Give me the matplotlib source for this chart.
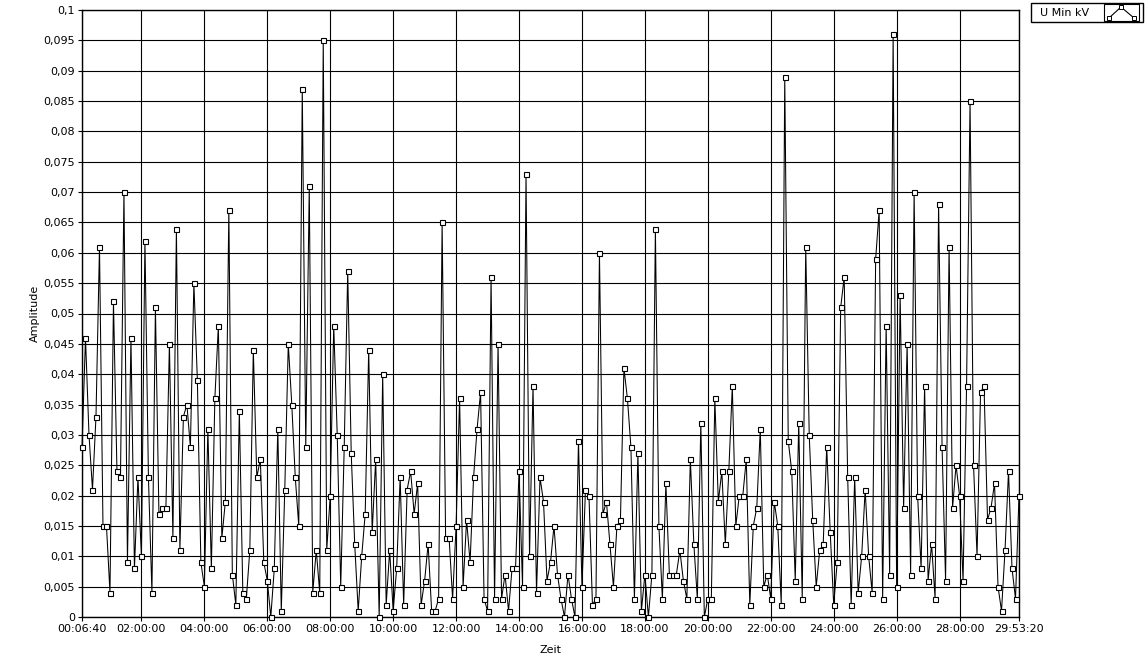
import matplotlib
matplotlib.use("Agg")
import matplotlib.pyplot as plt
import numpy as np
from matplotlib.ticker import FuncFormatter, FixedLocator
from matplotlib.patches import Rectangle
from matplotlib.lines import Line2D

plt.rcParams['font.family'] = ['DejaVu Sans']

# ---- data ----
series_name = "U Min kV"
sample_start_s = 400          # 00:06:40
sample_interval_s = 400       # one sample every 6:40

values = [
    0.028, 0.046, 0.030, 0.021, 0.033, 0.061, 0.015, 0.015, 0.004, 0.052, 0.024, 0.023,
    0.070, 0.009, 0.046, 0.008, 0.023, 0.010, 0.062, 0.023, 0.004, 0.051, 0.017,
    0.018, 0.018, 0.045, 0.013, 0.064, 0.011, 0.033, 0.035, 0.028, 0.055, 0.039, 0.009,
    0.005, 0.031, 0.008, 0.036, 0.048, 0.013, 0.019, 0.067, 0.007, 0.002, 0.034,
    0.004, 0.003, 0.011, 0.044, 0.023, 0.026, 0.009, 0.006, 0.000, 0.008, 0.031, 0.001,
    0.021, 0.045, 0.035, 0.023, 0.015, 0.087, 0.028, 0.071, 0.004, 0.011, 0.004,
    0.095, 0.011, 0.020, 0.048, 0.030, 0.005, 0.028, 0.057, 0.027, 0.012, 0.001, 0.010,
    0.017, 0.044, 0.014, 0.026, 0.000, 0.040, 0.002, 0.011, 0.001, 0.008, 0.023,
    0.002, 0.021, 0.024, 0.017, 0.022, 0.002, 0.006, 0.012, 0.001, 0.001, 0.003, 0.065,
    0.013, 0.013, 0.003, 0.015, 0.036, 0.005, 0.016, 0.009, 0.023, 0.031,
    0.037, 0.003, 0.001, 0.056, 0.003, 0.045, 0.003, 0.007, 0.001, 0.008, 0.008, 0.024,
    0.005, 0.073, 0.010, 0.038, 0.004, 0.023, 0.019, 0.006, 0.009, 0.015, 0.007,
    0.003, 0.000, 0.007, 0.003, 0.000, 0.029, 0.005, 0.021, 0.020, 0.002, 0.003, 0.060,
    0.017, 0.019, 0.012, 0.005, 0.015, 0.016, 0.041, 0.036, 0.028, 0.003, 0.027,
    0.001, 0.007, 0.000, 0.007, 0.064, 0.015, 0.003, 0.022, 0.007, 0.007, 0.007, 0.011,
    0.006, 0.003, 0.026, 0.012, 0.003, 0.032, 0.000, 0.003, 0.003, 0.036, 0.019,
    0.024, 0.012, 0.024, 0.038, 0.015, 0.020, 0.020, 0.026, 0.002, 0.015, 0.018, 0.031,
    0.005, 0.007, 0.003, 0.019, 0.015, 0.002, 0.089, 0.029, 0.024, 0.006, 0.032,
    0.003, 0.061, 0.030, 0.016, 0.005, 0.011, 0.012, 0.028, 0.014, 0.002, 0.009, 0.051,
    0.056, 0.023, 0.002, 0.023, 0.004, 0.010, 0.021, 0.010, 0.004, 0.059, 0.067,
    0.003, 0.048, 0.007, 0.096, 0.005, 0.053, 0.018, 0.045, 0.007, 0.070, 0.020, 0.008,
    0.038, 0.006, 0.012, 0.003, 0.068, 0.028, 0.006, 0.061, 0.018, 0.025, 0.020,
    0.006, 0.038, 0.085, 0.025, 0.010, 0.037, 0.038, 0.016, 0.018, 0.022, 0.005, 0.001,
    0.011, 0.024, 0.008, 0.003, 0.020,
]

xtick_labels = ["00:06:40", "02:00:00", "04:00:00", "06:00:00", "08:00:00", "10:00:00",
                "12:00:00", "14:00:00", "16:00:00", "18:00:00", "20:00:00", "22:00:00",
                "24:00:00", "26:00:00", "28:00:00", "29:53:20"]
y_min, y_max, y_step = 0.0, 0.1, 0.005
x_label = "Zeit"
y_label = "Amplitude"


def hms_to_s(s):
    h, m, sec = (int(p) for p in s.split(":"))
    return h * 3600 + m * 60 + sec


times = sample_start_s + sample_interval_s * np.arange(len(values))
xtick_pos = [hms_to_s(l) for l in xtick_labels]

W, H = 1147, 660
fig = plt.figure(figsize=(W / 100, H / 100), dpi=100)
fig.patch.set_facecolor('white')

left_px, right_px, top_px, bottom_px = 82, 1019, 10, 617
ax = fig.add_axes([left_px / W, 1 - bottom_px / H, (right_px - left_px) / W, (bottom_px - top_px) / H])

ax.plot(times, values, color='black', linewidth=0.75, marker='s', markersize=3.6,
        markerfacecolor='white', markeredgecolor='black', markeredgewidth=0.8, zorder=3,
        clip_on=False)

ax.set_xlim(xtick_pos[0], xtick_pos[-1])
ax.set_ylim(y_min, y_max)

ax.xaxis.set_major_locator(FixedLocator(xtick_pos))
ax.set_xticklabels(xtick_labels)
yt = np.round(np.arange(y_min, y_max + y_step / 2, y_step), 3)
ax.yaxis.set_major_locator(FixedLocator(yt))


def yfmt(v, pos):
    s = f"{v:.3f}".rstrip('0').rstrip('.')
    return s.replace('.', ',')


ax.yaxis.set_major_formatter(FuncFormatter(yfmt))

ax.grid(True, which='major', color='black', linewidth=0.8)
ax.set_axisbelow(True)
for sp in ax.spines.values():
    sp.set_color('black')
    sp.set_linewidth(1.0)

ax.tick_params(axis='both', labelsize=8, colors='black', direction='out', length=3, width=0.8)
ax.tick_params(axis='x', pad=2)
ax.tick_params(axis='y', pad=2)

fig.text(35 / W, 1 - 313 / H, y_label, rotation=90, ha='center', va='center', fontsize=8)
fig.text(550 / W, 1 - 650 / H, x_label, ha='center', va='center', fontsize=8)

# legend box (LabVIEW-style plot legend)
fig.patches.append(Rectangle((1031 / W, 1 - 22 / H), 112 / W, 19 / H, transform=fig.transFigure,
                             facecolor='white', edgecolor='black', linewidth=1.0))
fig.text(1040 / W, 1 - 12.5 / H, series_name, ha='left', va='center', fontsize=8)
fig.patches.append(Rectangle((1104 / W, 1 - 21 / H), 35 / W, 17 / H, transform=fig.transFigure,
                             facecolor='white', edgecolor='black', linewidth=0.8))
icon_x = np.array([1109, 1121, 1134]) / W
icon_y = 1 - np.array([18, 7, 18]) / H
fig.lines.append(Line2D(icon_x, icon_y, transform=fig.transFigure, color='black', linewidth=0.8,
                        marker='s', markersize=3, markerfacecolor='white', markeredgecolor='black',
                        markeredgewidth=0.7))

fig.savefig('out.png', dpi=100, facecolor='white')
